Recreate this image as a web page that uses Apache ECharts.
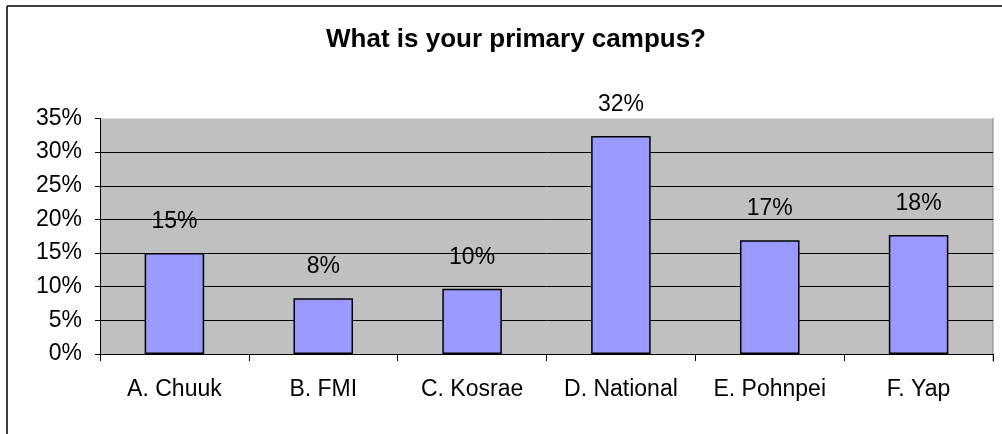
<!DOCTYPE html>
<html>
<head>
<meta charset="utf-8">
<script src="https://cdn.jsdelivr.net/npm/echarts@6/dist/echarts.min.js"></script>
<style>
  html, body { margin: 0; padding: 0; background: #fff; }
  #chart { width: 1002px; height: 434px; }
</style>
</head>
<body>
<div id="chart"></div>
<script>
  // campus categories and share of responses (%)
  var campuses = ['A. Chuuk', 'B. FMI', 'C. Kosrae', 'D. National', 'E. Pohnpei', 'F. Yap'];
  var shares = [15.0, 8.3, 9.7, 32.4, 16.9, 17.7];
  var yTicks = [0, 5, 10, 15, 20, 25, 30, 35];

  var chart = echarts.init(document.getElementById('chart'));
  var font = 'Liberation Sans, Arial, sans-serif';

  chart.setOption({
    animation: false,
    title: {
      text: 'What is your primary campus?',
      left: 511,
      textAlign: 'center',
      top: 22,
      textStyle: { fontFamily: font, fontSize: 26, fontWeight: 'bold', color: '#000' }
    },
    /* outer frame, only left and top edges visible in the picture */
    graphic: [
      { type: 'line', shape: { x1: 7, y1: 6, x2: 7, y2: 434 }, style: { stroke: '#000', lineWidth: 1.5 } },
      { type: 'line', shape: { x1: 7, y1: 6, x2: 1002, y2: 6 }, style: { stroke: '#000', lineWidth: 1.5 } },
      { type: 'line', shape: { x1: 993, y1: 118, x2: 993, y2: 362 }, style: { stroke: '#808080', lineWidth: 1 } }
    ],
    grid: {
      left: 100, right: 9, top: 118.5, bottom: 80,
      show: true, backgroundColor: '#C0C0C0', borderWidth: 0
    },
    xAxis: {
      type: 'category',
      data: campuses,
      axisLine: { lineStyle: { color: '#000', width: 1 } },
      axisTick: { show: true, length: 7, lineStyle: { color: '#000' } },
      axisLabel: { fontFamily: font, fontSize: 23, color: '#000', margin: 24 }
    },
    yAxis: {
      type: 'value',
      min: 0, max: 35, interval: 5,
      axisLine: { show: true, lineStyle: { color: '#000', width: 1 } },
      axisTick: { show: true, length: 5, lineStyle: { color: '#000' } },
      axisLabel: {
        fontFamily: font, fontSize: 23, color: '#000', margin: 18,
        formatter: function (v) { return yTicks.indexOf(v) >= 0 ? v + '%' : ''; }
      },
      splitLine: {
        lineStyle: {
          color: ['#000', '#000', '#000', '#000', '#000', '#000', '#000', 'rgba(0,0,0,0)'],
          width: 1
        }
      }
    },
    series: [{
      type: 'bar',
      data: shares,
      barWidth: '40%',
      itemStyle: { color: '#9999FF', borderColor: '#000', borderWidth: 1.5 },
      label: {
        show: true, position: 'top', distance: 20,
        fontFamily: font, fontSize: 23, color: '#000',
        formatter: function (p) { return Math.round(p.value) + '%'; }
      }
    }]
  });
</script>
</body>
</html>
